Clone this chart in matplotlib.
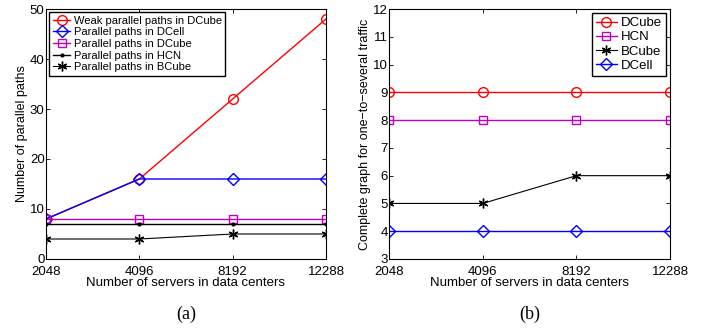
import matplotlib.pyplot as plt
import numpy as np

plt.rcParams['font.family'] = ['Liberation Sans', 'DejaVu Sans']

servers = ['2048', '4096', '8192', '12288']

# (a) parallel paths
weak_dcube = [8, 16, 32, 48]
dcell_a = [8, 16, 16, 16]
dcube_a = [8, 8, 8, 8]
hcn_a = [7, 7, 7, 7]
bcube_a = [4, 4, 5, 5]

# (b) complete graph for one-to-several traffic
dcube_b = [9, 9, 9, 9]
hcn_b = [8, 8, 8, 8]
bcube_b = [5, 5, 6, 6]
dcell_b = [4, 4, 4, 4]

x = np.arange(len(servers))
asterisk = (6, 2, 0)
fs = 9.5

fig = plt.figure(figsize=(7.05, 3.29), dpi=100)
ax1 = fig.add_axes([0.0652, 0.2128, 0.3972, 0.7598])
ax2 = fig.add_axes([0.5518, 0.2128, 0.3986, 0.7598])

mk = dict(markerfacecolor='none', markersize=7, linewidth=1)

ax1.plot(x, weak_dcube, color='red', marker='o', label='Weak parallel paths in DCube', **mk)
ax1.plot(x, dcell_a, color='blue', marker='D', label='Parallel paths in DCell',
         markerfacecolor='none', markersize=6, linewidth=1)
ax1.plot(x, dcube_a, color='m', marker='s', label='Parallel paths in DCube',
         markerfacecolor='none', markersize=6, linewidth=1)
ax1.plot(x, hcn_a, color='black', marker='.', label='Parallel paths in HCN',
         markersize=4, linewidth=1)
ax1.plot(x, bcube_a, color='black', marker=asterisk, label='Parallel paths in BCube',
         markersize=7, linewidth=0.8)
ax1.set_ylim(0, 50)
ax1.set_yticks(range(0, 51, 10))
ax1.set_ylabel('Number of parallel paths', fontsize=fs - 0.5, labelpad=1)
ax1.legend(loc='upper left', fontsize=8, handlelength=1.6, handletextpad=0.3,
           labelspacing=0.15, borderpad=0.3, fancybox=False, edgecolor='black',
           framealpha=1, borderaxespad=0.3)

ax2.plot(x, dcube_b, color='red', marker='o', label='DCube', **mk)
ax2.plot(x, hcn_b, color='m', marker='s', label='HCN',
         markerfacecolor='none', markersize=6, linewidth=1)
ax2.plot(x, bcube_b, color='black', marker=asterisk, label='BCube',
         markersize=7, linewidth=0.8)
ax2.plot(x, dcell_b, color='blue', marker='D', label='DCell',
         markerfacecolor='none', markersize=6, linewidth=1)
ax2.set_ylim(3, 12)
ax2.set_yticks(range(3, 13))
ax2.set_ylabel('Complete graph for one\u2212to\u2212several traffic', fontsize=fs - 0.5, labelpad=1)
ax2.legend(loc='upper right', fontsize=9.5, handlelength=1.6, handletextpad=0.3,
           labelspacing=0.15, borderpad=0.3, fancybox=False, edgecolor='black',
           framealpha=1, borderaxespad=0.3)

for ax, cap in [(ax1, '(a)'), (ax2, '(b)')]:
    ax.set_xlim(0, 3)
    ax.set_xticks(x)
    ax.set_xticklabels(servers)
    ax.set_xlabel('Number of servers in data centers', fontsize=fs, labelpad=-1)
    ax.tick_params(direction='in', top=True, right=True, labelsize=fs,
                   length=3, width=0.6, pad=1)
    ax.tick_params(axis='x', pad=5)
    for s in ax.spines.values():
        s.set_linewidth(0.8)
    pos = ax.get_position()
    fig.text((pos.x0 + pos.x1) / 2, 0.046, cap, ha='center', va='center',
             fontsize=13, family=['Liberation Serif', 'DejaVu Serif'])

fig.savefig('out.png', dpi=100)
